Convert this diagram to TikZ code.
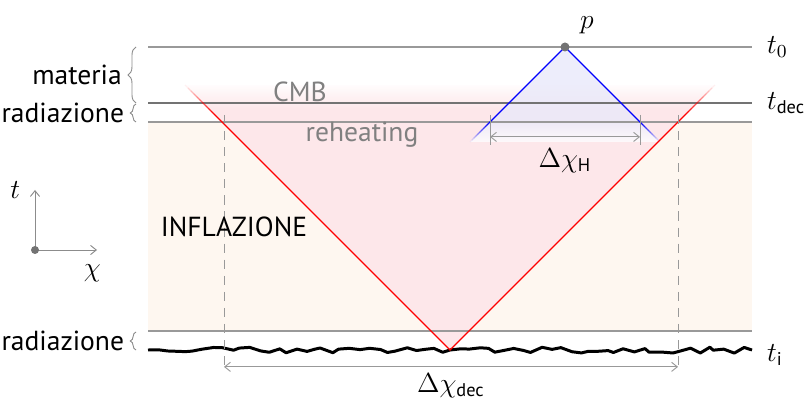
\documentclass[tikz,border=0pt]{standalone}
\usepackage{amsmath}
\usepackage{fontspec}
\setsansfont{PT Sans}
\usepackage{tikz}
\usetikzlibrary{positioning,arrows.meta,calc,decorations.pathmorphing,decorations.pathreplacing}
\definecolor{inflbg}{RGB}{254,247,240}
\definecolor{conepink}{RGB}{253,231,234}
\definecolor{horblue}{RGB}{233,233,250}
\tikzset{
  epoch/.style   ={draw=black!40, line width=0.5pt},
  cmbline/.style ={draw=black!55, line width=0.6pt},
  lab/.style     ={font=\large\sffamily, inner sep=1pt},
  glab/.style    ={font=\large\sffamily, text=black!50, inner sep=1pt},
  brc/.style     ={draw=black!45, decorate, decoration={brace, amplitude=#1}},
  dimline/.style ={draw=black!40, {Straight Barb[length=2.5pt,width=4pt]}-{Straight Barb[length=2.5pt,width=4pt]}},
  tick/.style    ={draw=black!40, line width=0.4pt},
  guide/.style   ={draw=black!40, dash pattern=on 4pt off 3pt},
  axis/.style    ={draw=black!45, -{Straight Barb[length=2.5pt,width=4pt]}},
  wave/.style    ={draw=black, line width=1.3pt, line join=round, decorate,
                   decoration={random steps, segment length=4pt, amplitude=1.4pt}},
}
\begin{document}
\begin{tikzpicture}[x=0.0153cm, y=-0.0153cm, font=\large]
  \useasboundingbox (0,0) rectangle (808,403);
  % main points
  \coordinate (v)  at (450,350);
  \coordinate (lt) at (185,85);
  \coordinate (rt) at (715,85);
  \coordinate (p)  at (565,47);
  \coordinate (bl) at (470,142);
  \coordinate (br) at (660,142);

  % inflation band
  \fill[inflbg] (148,122) rectangle (752,331);

  % past light cone of the initial point
  \begin{scope}
    \clip (v) -- (lt) -- (rt) -- cycle;
    \fill[conepink] (148,108) rectangle (752,351);
    \shade[top color=white, bottom color=conepink] (148,82) rectangle (752,108.5);
  \end{scope}

  % horizon of the observer
  \begin{scope}
    \clip (p) -- (bl) -- (br) -- cycle;
    \fill[horblue, opacity=0.8] (460,40) rectangle (670,122);
    \shade[top color=horblue, bottom color=white, opacity=0.8] (460,121.5) rectangle (670,143);
  \end{scope}

  % epochs
  \coordinate (a0) at (148,47);   \coordinate (b0) at (752,47);
  \coordinate (ad) at (148,103);  \coordinate (bd) at (752,103);
  \coordinate (ar) at (148,122);  \coordinate (br2) at (752,122);
  \coordinate (ai) at (148,331);  \coordinate (bi) at (752,331);
  \coordinate (wl) at (148,350);  \coordinate (wr) at (752,350);
  \draw[epoch]   (a0) -- (b0);
  \draw[cmbline] (ad) -- (bd);
  \draw[epoch]   (ar) -- (br2);
  \draw[epoch]   (ai) -- (bi);
  \pgfmathsetseed{11}
  \draw[wave] (wl) -- (v);
  \draw[wave] (v) -- (wr);

  \node[right=3pt of b0]           (t0)   {$t_0$};
  \node[right=3pt of bd]           (tdec) {$t_{\textsf{dec}}$};
  \node[right=3pt of wr, yshift=-2pt] (ti) {$t_{\textsf{i}}$};

  % red cone edges, faded at the top
  \foreach \i in {0,...,9}{
    \draw[red, line width=0.5pt, opacity={(\i+0.5)/10}]
      ($(lt)!{\i*0.011}!(v)$) -- ($(lt)!{(\i+1)*0.011}!(v)$)
      ($(rt)!{\i*0.011}!(v)$) -- ($(rt)!{(\i+1)*0.011}!(v)$);
  }
  \draw[red, line width=0.5pt] ($(lt)!0.11!(v)$) -- (v) -- ($(rt)!0.11!(v)$);

  % blue horizon edges, faded at the bottom
  \foreach \i in {0,...,9}{
    \draw[blue, line width=0.5pt, opacity={1-(\i+0.5)/10}]
      ($(p)!{0.8+\i*0.02}!(bl)$) -- ($(p)!{0.8+(\i+1)*0.02}!(bl)$)
      ($(p)!{0.8+\i*0.02}!(br)$) -- ($(p)!{0.8+(\i+1)*0.02}!(br)$);
  }
  \draw[blue, line width=0.5pt] ($(p)!0.8!(bl)$) -- (p) -- ($(p)!0.8!(br)$);
  \fill[black!55] (p) circle (4.5);
  \node[above right=2pt and 3pt of p] (plab) {$p$};

  % horizon today
  \coordinate (hl) at (490,115);  \coordinate (hl2) at (490,145);
  \coordinate (hr) at (640,115);  \coordinate (hr2) at (640,145);
  \draw[tick] (hl) -- (hl2);
  \draw[tick] (hr) -- (hr2);
  \draw[dimline] ($(hl)!0.73!(hl2)$) -- ($(hr)!0.73!(hr2)$);
  \node (dh) at (565,161) {$\Delta\chi_{\textsf{H}}$};

  % horizon at decoupling
  \coordinate (dl) at (224,115);  \coordinate (dl2) at (224,372);
  \coordinate (dr) at (678,115);  \coordinate (dr2) at (678,372);
  \draw[guide] (dl) -- (dl2);
  \draw[guide] (dr) -- (dr2);
  \draw[dimline] ($(dl)!0.98!(dl2)$) -- ($(dr)!0.98!(dr2)$);
  \node (ddec) at (451,386) {$\Delta\chi_{\textsf{dec}}$};

  % epoch labels
  \node[glab] (cmb)  at (300,92)  {CMB};
  \node[glab] (reh)  at (362,135) {reheating};
  \node[lab]  (infl) at (234,227) {INFLAZIONE};

  \coordinate (m1) at (136,103);  \coordinate (m2) at (136,47);
  \coordinate (r1) at (136,122);  \coordinate (r2) at (136,104);
  \coordinate (s1) at (136,350);  \coordinate (s2) at (136,332);
  \draw[brc=3.5pt] (m1) -- (m2);
  \draw[brc=2.5pt] (r1) -- (r2);
  \draw[brc=2.5pt] (s1) -- (s2);
  \node[lab, left=5pt of $(m1)!0.5!(m2)$] (mat)  {materia};
  \node[lab, left=4pt of $(r1)!0.5!(r2)$] (rad1) {radiazione};
  \node[lab, left=4pt of $(s1)!0.5!(s2)$] (rad2) {radiazione};

  % axes
  \coordinate (o)  at (35,250);
  \coordinate (ot) at (35,190);
  \coordinate (ox) at (97,250);
  \draw[axis] (o) -- (ot);
  \draw[axis] (o) -- (ox);
  \fill[black!55] (o) circle (4);
  \node[left=3pt of ot]            (tax) {$t$};
  \node[below=3pt of ox, xshift=-2pt] (xax) {$\chi$};
\end{tikzpicture}
\end{document}
